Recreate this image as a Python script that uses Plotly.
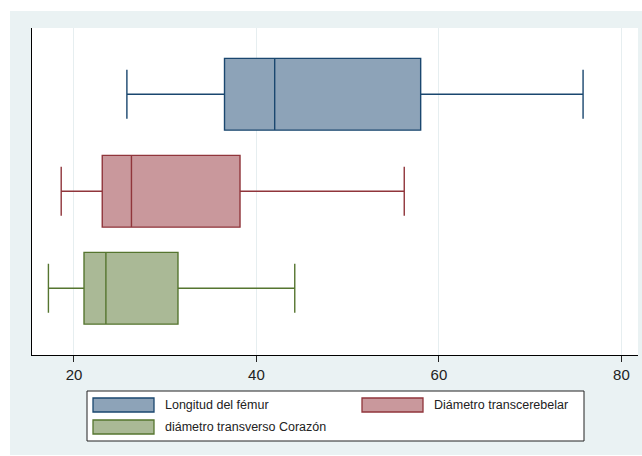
import plotly.graph_objects as go

# Summary statistics per measure
series = ["Longitud del fémur", "Diámetro transcerebelar", "diámetro transverso Corazón"]
lower_whisker = [25.8, 18.6, 17.2]
q1_values = [36.5, 23.1, 21.1]
medians = [42.0, 26.3, 23.5]
q3_values = [58.0, 38.2, 31.4]
upper_whisker = [75.8, 56.2, 44.2]

line_colors = ["#1A476F", "#90353B", "#55752F"]
fill_colors = ["#8DA3B8", "#C9989C", "#AAB996"]

x_ticks = [20, 40, 60, 80]

W, H = 642, 456
ML, MR, MT, MB = 32, 4, 28, 101
OUTER_BG = "#EAF2F3"
FONT = "Liberation Sans, Arial, sans-serif"

fig = go.Figure()
for i, name in enumerate(series):
    fig.add_trace(go.Box(
        name=name,
        y=[name],
        orientation="h",
        q1=[q1_values[i]],
        median=[medians[i]],
        q3=[q3_values[i]],
        lowerfence=[lower_whisker[i]],
        upperfence=[upper_whisker[i]],
        width=0.74,
        whiskerwidth=0.68,
        fillcolor=fill_colors[i],
        line=dict(color=line_colors[i], width=1.4),
        showlegend=False,
        hoverinfo="x",
    ))

# Pixel -> paper helpers for the outer frame and legend
pw, ph = W - ML - MR, H - MT - MB
def px_x(p):
    return (p - ML) / pw
def px_y(p):
    return (H - MB - p) / ph

shapes = [
    # outer tinted frame
    dict(type="rect", xref="paper", yref="paper", layer="below",
         x0=px_x(10), x1=px_x(W), y0=px_y(455), y1=px_y(11),
         fillcolor=OUTER_BG, line=dict(width=0)),
    # white plotting region
    dict(type="rect", xref="paper", yref="paper", layer="below",
         x0=0, x1=1, y0=0, y1=1, fillcolor="white", line=dict(width=0)),
    # legend box
    dict(type="rect", xref="paper", yref="paper",
         x0=px_x(87), x1=px_x(584), y0=px_y(441), y1=px_y(391),
         fillcolor="white", line=dict(color="#222222", width=1)),
]

annotations = []
legend_pos = [(93, 405), (362, 405), (93, 427)]
for i, name in enumerate(series):
    sx, sy = legend_pos[i]
    shapes.append(dict(
        type="rect", xref="paper", yref="paper",
        x0=px_x(sx), x1=px_x(sx + 61), y0=px_y(sy + 7), y1=px_y(sy - 7),
        fillcolor=fill_colors[i], line=dict(color=line_colors[i], width=1.3)))
    annotations.append(dict(
        xref="paper", yref="paper", x=px_x(sx + 70), y=px_y(sy),
        text=name, showarrow=False, xanchor="left", yanchor="middle",
        font=dict(family=FONT, size=12.5, color="#222222")))

fig.update_layout(
    width=W, height=H,
    margin=dict(l=ML, r=MR, t=MT, b=MB, pad=0),
    paper_bgcolor="white",
    plot_bgcolor="rgba(0,0,0,0)",
    boxmode="overlay",
    shapes=shapes,
    annotations=annotations,
    font=dict(family=FONT, size=15, color="#222222"),
    xaxis=dict(
        range=[15.4, 81.82],
        tickvals=x_ticks,
        ticks="outside", ticklen=6, tickcolor="#222222",
        showgrid=True, gridcolor="#E6EEF0", gridwidth=1,
        showline=True, linecolor="black", linewidth=1,
        zeroline=False,
        tickfont=dict(family=FONT, size=15, color="#222222"),
    ),
    yaxis=dict(
        type="category",
        categoryorder="array", categoryarray=series,
        range=[2.688, -0.683],
        showticklabels=False, ticks="",
        showgrid=False, zeroline=False,
        showline=True, linecolor="black", linewidth=1,
    ),
)

fig.write_html("out.html")
